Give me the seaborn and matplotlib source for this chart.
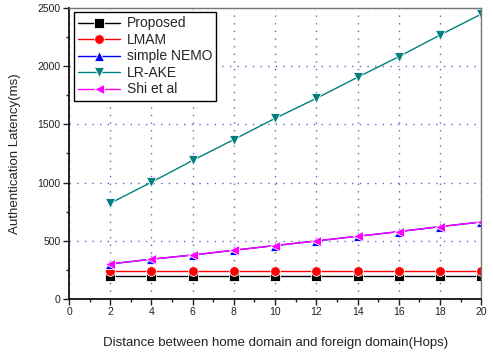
import numpy as np
import pandas as pd
import seaborn as sns
import matplotlib.pyplot as plt
from matplotlib.ticker import MultipleLocator

# Authentication latency (ms) versus distance between home and foreign domain (hops)
hops = [2, 4, 6, 8, 10, 12, 14, 16, 18, 20]
proposed = [195, 195, 195, 195, 195, 195, 195, 195, 195, 195]
lmam = [238, 238, 238, 238, 238, 238, 238, 238, 238, 238]
simple_nemo = [300, 341, 377, 418, 458, 498, 538, 578, 621, 661]
lr_ake = [822, 1003, 1190, 1370, 1552, 1724, 1905, 2082, 2268, 2448]
shi_et_al = [300, 341, 377, 418, 458, 498, 538, 578, 621, 661]

schemes = ["Proposed", "LMAM", "simple NEMO", "LR-AKE", "Shi et al"]
series = [proposed, lmam, simple_nemo, lr_ake, shi_et_al]
colors = ["#000000", "#ff0000", "#0000ff", "#008080", "#ff00ff"]
marker_list = ["s", "o", "^", "v", "<"]

df = pd.DataFrame({
    "Hops": np.tile(hops, len(schemes)),
    "Latency": np.concatenate(series),
    "Scheme": np.repeat(schemes, len(hops)),
})

sns.set_theme(style="ticks")
plt.rcParams["font.family"] = ["Liberation Sans", "DejaVu Sans"]

fig = plt.figure(figsize=(4.93, 3.52), dpi=100)
ax = fig.add_axes([0.140, 0.151, 0.836, 0.826])

sns.lineplot(
    data=df, x="Hops", y="Latency", hue="Scheme", style="Scheme",
    hue_order=schemes, style_order=schemes,
    palette=dict(zip(schemes, colors)),
    markers=dict(zip(schemes, marker_list)),
    dashes=False, linewidth=1.0, markersize=7.0, markeredgewidth=0.6,
    ax=ax,
)

ax.set_xlim(0, 20)
ax.set_ylim(0, 2500)
ax.xaxis.set_major_locator(MultipleLocator(2))
ax.xaxis.set_minor_locator(MultipleLocator(1))
ax.yaxis.set_major_locator(MultipleLocator(500))
ax.yaxis.set_minor_locator(MultipleLocator(250))

ax.grid(True, which="major", linestyle=(0, (1, 4.5)), color="#6464c4", linewidth=1.0)
ax.tick_params(axis="both", which="major", direction="out", length=4, width=1,
               labelsize=7.5, colors="#222222", pad=2)
ax.tick_params(axis="both", which="minor", direction="out", length=2.5, width=1)

for side in ["left", "bottom"]:
    ax.spines[side].set_color("#111111")
    ax.spines[side].set_linewidth(1.3)
for side in ["top", "right"]:
    ax.spines[side].set_visible(True)
    ax.spines[side].set_color("#777777")
    ax.spines[side].set_linewidth(1.0)

ax.set_xlabel("Distance between home domain and foreign domain(Hops)",
              fontsize=9.5, color="#222222", labelpad=14)
ax.set_ylabel("Authentication Latency(ms)", fontsize=9.5, color="#222222", labelpad=12)

leg = ax.legend(loc="upper left", bbox_to_anchor=(0.005, 0.995), fontsize=10,
                frameon=True, fancybox=False, edgecolor="#000000",
                handlelength=3.0, borderpad=0.3, labelspacing=0.18,
                handletextpad=0.5, borderaxespad=0.2)
leg.get_frame().set_linewidth(1.0)
leg.get_frame().set_alpha(1.0)

fig.savefig("out.png", dpi=100)
